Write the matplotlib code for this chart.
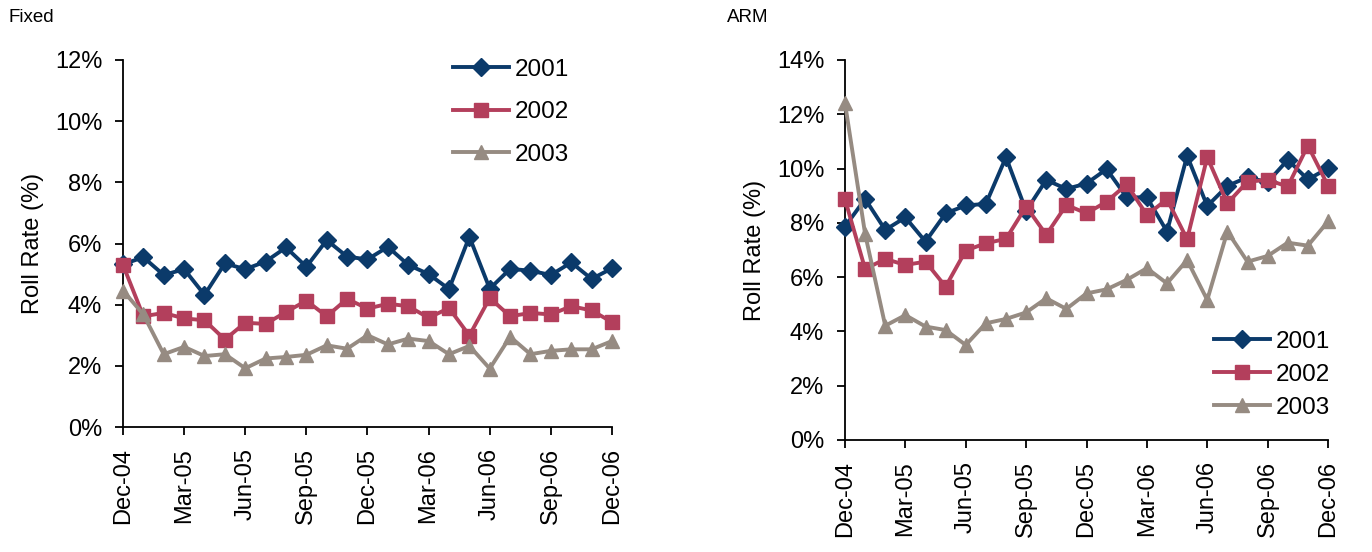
import numpy as np
import matplotlib.pyplot as plt

plt.rcParams['font.family'] = ['Liberation Sans', 'DejaVu Sans']

# Monthly roll rates (%) by vintage, Dec-04 .. Dec-06
months = ['Dec-04', 'Jan-05', 'Feb-05', 'Mar-05', 'Apr-05', 'May-05', 'Jun-05',
          'Jul-05', 'Aug-05', 'Sep-05', 'Oct-05', 'Nov-05', 'Dec-05', 'Jan-06',
          'Feb-06', 'Mar-06', 'Apr-06', 'May-06', 'Jun-06', 'Jul-06', 'Aug-06',
          'Sep-06', 'Oct-06', 'Nov-06', 'Dec-06']
vintages = ['2001', '2002', '2003']

fixed_2001 = [5.32, 5.55, 4.97, 5.16, 4.32, 5.35, 5.16, 5.41, 5.87, 5.24, 6.11, 5.57, 5.48,
              5.89, 5.30, 5.00, 4.51, 6.22, 4.52, 5.17, 5.11, 4.97, 5.38, 4.84, 5.19]
fixed_2002 = [5.30, 3.62, 3.73, 3.55, 3.49, 2.86, 3.41, 3.37, 3.76, 4.13, 3.62, 4.19, 3.87,
              4.03, 3.95, 3.57, 3.89, 2.99, 4.22, 3.62, 3.73, 3.68, 3.95, 3.81, 3.43]
fixed_2003 = [4.46, 3.68, 2.38, 2.62, 2.32, 2.38, 1.92, 2.24, 2.29, 2.36, 2.67, 2.56, 3.00,
              2.70, 2.89, 2.81, 2.38, 2.65, 1.91, 2.95, 2.38, 2.49, 2.54, 2.54, 2.81]

arm_2001 = [7.86, 8.88, 7.74, 8.20, 7.31, 8.35, 8.64, 8.70, 10.42, 8.44, 9.58, 9.25, 9.45,
            9.98, 8.94, 8.94, 7.68, 10.47, 8.62, 9.36, 9.68, 9.50, 10.32, 9.60, 10.01]
arm_2002 = [8.87, 6.30, 6.67, 6.45, 6.57, 5.65, 6.98, 7.25, 7.41, 8.60, 7.56, 8.66, 8.35,
            8.78, 9.42, 8.29, 8.87, 7.40, 10.42, 8.72, 9.52, 9.58, 9.34, 10.85, 9.37]
arm_2003 = [12.41, 7.59, 4.21, 4.60, 4.18, 4.05, 3.50, 4.30, 4.46, 4.70, 5.22, 4.83, 5.40,
            5.55, 5.90, 6.33, 5.77, 6.63, 5.16, 7.68, 6.57, 6.78, 7.27, 7.16, 8.05]

colors = ['#0B3A6A', '#B33F5C', '#968B82']
markers = ['D', 's', '^']
msizes = [9.5, 9.5, 10]

fig = plt.figure(figsize=(13.72, 5.52), dpi=100)
ax_fixed = fig.add_axes([123 / 1372, 1 - 427 / 552, 489 / 1372, 367 / 552])
ax_arm = fig.add_axes([845 / 1372, 1 - 440 / 552, 483 / 1372, 380 / 552])

x = np.arange(len(months))
tick_pos = x[::3]
tick_lab = [months[i] for i in tick_pos]


def draw_panel(ax, series, ymax, legend_kw):
    for vals, name, c, m, ms in zip(series, vintages, colors, markers, msizes):
        ax.plot(x, vals, color=c, marker=m, markersize=ms, linewidth=2.8,
                markeredgecolor=c, label=name, clip_on=False, zorder=3)
    ax.set_xlim(0, 24)
    ax.set_ylim(0, ymax)
    ax.set_yticks(np.arange(0, ymax + 0.1, 2))
    ax.set_yticklabels([f'{int(v)}%' for v in np.arange(0, ymax + 0.1, 2)])
    ax.set_xticks(tick_pos)
    ax.set_xticklabels(tick_lab, rotation=90)
    for side in ['top', 'right']:
        ax.spines[side].set_visible(False)
    for side in ['left', 'bottom']:
        ax.spines[side].set_linewidth(1.3)
    ax.tick_params(direction='out', length=6, width=1.3, labelsize=17, pad=9)
    ax.set_ylabel('Roll Rate (%)', fontsize=17, labelpad=8)
    ax.legend(frameon=False, fontsize=17.5, handlelength=2.3, handletextpad=0.25,
              borderaxespad=0, **legend_kw)


draw_panel(ax_fixed, [fixed_2001, fixed_2002, fixed_2003], 12,
           dict(loc='upper left', bbox_to_anchor=(0.655, 1.03), labelspacing=0.84))
draw_panel(ax_arm, [arm_2001, arm_2002, arm_2003], 14,
           dict(loc='lower left', bbox_to_anchor=(0.744, 0.03), labelspacing=0.45))

fig.text(8 / 1372, 1 - 17 / 552, 'Fixed', fontsize=13.5, va='center', ha='left')
fig.text(727 / 1372, 1 - 17 / 552, 'ARM', fontsize=13.5, va='center', ha='left')

fig.savefig('out.png', dpi=100)
